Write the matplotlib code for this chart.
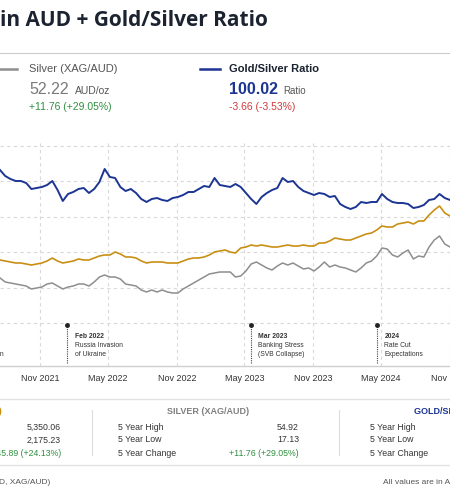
import matplotlib
matplotlib.use("Agg")
import matplotlib.pyplot as plt
from matplotlib.lines import Line2D
from matplotlib.patches import Rectangle
import pandas as pd
import numpy as np

# ---------------- data (relative chart level) ----------------
start_date = "2021-07-16"
n_points = 87  # fortnightly samples

ratio_vals = [210, 204, 201, 199, 199, 197, 191, 192, 193, 195, 199, 190, 179, 186, 188, 191,
              192, 187, 191, 198, 211, 203, 202, 193, 189, 191, 187, 181, 178, 181, 182, 180,
              179, 182, 183, 185, 188, 188, 191, 194, 193, 202, 195, 194, 193, 196, 193, 187,
              181, 176, 183, 187, 190, 192, 202, 198, 199, 193, 189, 187, 185, 187, 186, 183,
              184, 176, 173, 171, 173, 178, 177, 178, 178, 186, 181, 178, 177, 177, 176, 172,
              173, 175, 180, 181, 186, 182, 180]

gold_vals = [120, 119, 118, 117, 117, 116, 115, 116, 117, 119, 122, 119, 117, 118, 119, 121,
             120, 120, 122, 124, 125, 125, 128, 126, 123, 123, 122, 119, 117, 118, 118, 118,
             117, 117, 117, 119, 121, 122, 122, 123, 125, 128, 129, 130, 128, 127, 132, 133,
             135, 134, 135, 134, 133, 133, 134, 135, 134, 134, 135, 134, 134, 137, 137, 139,
             142, 141, 140, 140, 142, 144, 146, 147, 150, 154, 153, 153, 156, 157, 158, 156,
             159, 159, 165, 170, 174, 167, 164]

silver_vals = [102, 98, 97, 96, 95, 94, 91, 92, 93, 96, 97, 94, 91, 93, 94, 96,
               96, 94, 98, 103, 105, 103, 103, 101, 96, 95, 94, 90, 88, 90, 88, 90,
               88, 87, 87, 91, 94, 97, 100, 103, 106, 107, 108, 108, 108, 103, 104, 109,
               116, 118, 115, 112, 110, 114, 117, 115, 117, 114, 111, 112, 109, 113, 118, 113,
               115, 113, 112, 110, 108, 112, 117, 119, 124, 132, 131, 125, 123, 127, 130, 121,
               124, 123, 133, 140, 144, 136, 133]

tick_dates = ["2021-11-01", "2022-05-01", "2022-11-01", "2023-05-01",
              "2023-11-01", "2024-05-01", "2024-11-01"]
tick_labels = ["Nov 2021", "May 2022", "Nov 2022", "May 2023",
               "Nov 2023", "May 2024", "Nov 2024"]

event_dates = ["2022-01-12", "2023-05-18", "2024-04-19"]
event_texts = [["Feb 2022", "Russia Invasion", "of Ukraine"],
               ["Mar 2023", "Banking Stress", "(SVB Collapse)"],
               ["2024", "Rate Cut", "Expectations"]]

silver_stats_labels = ["5 Year High", "5 Year Low", "5 Year Change"]
silver_stats_values = ["54.92", "17.13", "+11.76 (+29.05%)"]
gold_stats_values = ["5,350.06", "2,175.23", "+1,045.89 (+24.13%)"]

# ---------------- styling ----------------
plt.rcParams['font.family'] = ['Liberation Sans', 'DejaVu Sans']
BLUE = '#1c3592'
GOLD = '#c98f14'
GREY = '#8e8e8e'
GREEN = '#2f8f3f'
RED = '#d23a3a'
DARK = '#1b2330'

W, H = 450, 495
fig = plt.figure(figsize=(W / 100, H / 100), dpi=100)
fig.patch.set_facecolor('white')

def fx(x):
    return x / W

def fy(y):
    return 1 - y / H

# ---------------- chart ----------------
ax_top, ax_bot = 143, 366
ax = fig.add_axes([0, fy(ax_bot), 1, (ax_bot - ax_top) / H])
dates = pd.date_range(start_date, periods=n_points, freq="14D")

ax.plot(dates, silver_vals, color=GREY, lw=1.1, zorder=3)
ax.plot(dates, gold_vals, color=GOLD, lw=1.2, zorder=4)
ax.plot(dates, ratio_vals, color=BLUE, lw=1.4, zorder=5)

ax.set_xlim(pd.Timestamp("2021-07-16"), pd.Timestamp("2024-10-19"))
ax.set_ylim(14, 237)
ax.set_yticks(np.linspace(57, 234, 6))
ax.set_yticklabels([])
ax.tick_params(axis='y', length=0)
ax.set_xticks(pd.to_datetime(tick_dates))
ax.set_xticklabels(tick_labels, fontsize=6.5, color='#333333')
ax.tick_params(axis='x', length=0, pad=6)
ax.grid(True, color='#d9d9d9', linestyle=(0, (3, 3)), lw=0.8)
for s in ['left', 'right', 'top']:
    ax.spines[s].set_visible(False)
ax.spines['bottom'].set_color('#cfcfcf')
ax.spines['bottom'].set_linewidth(1.0)

for d, lines in zip(pd.to_datetime(event_dates), event_texts):
    ax.plot([d, d], [17, 55], color='#444444', lw=0.8, ls=(0, (1, 1)), zorder=6)
    ax.plot([d], [55], marker='o', ms=2.5, color='#222222', zorder=7)
    for i, t in enumerate(lines):
        ax.annotate(t, xy=(d, 43 - 8.6 * i), xytext=(5.5, 0), textcoords='offset points',
                    fontsize=4.9, va='center', ha='left', color='#333333',
                    fontweight='bold' if i == 0 else 'normal')

fig.text(fx(4), fy(354), "Recession", fontsize=4.9, ha='right', va='center', color='#333333')

# ---------------- header ----------------
fig.text(fx(0), fy(21), "in AUD + Gold/Silver Ratio", fontsize=15, fontweight='bold',
         family=['Open Sans', 'Liberation Sans', 'DejaVu Sans'],
         color=DARK, va='center', ha='left')
fig.add_artist(Line2D([0, 1], [fy(53), fy(53)], color='#cccccc', lw=0.8))

fig.add_artist(Line2D([fx(0), fx(17)], [fy(69), fy(69)], color=GREY, lw=1.8))
fig.text(fx(29), fy(69), "Silver (XAG/AUD)", fontsize=8, color='#555555', va='center')
fig.add_artist(Line2D([fx(200), fx(220)], [fy(69), fy(69)], color=BLUE, lw=1.8))
fig.text(fx(229), fy(69), "Gold/Silver Ratio", fontsize=8, fontweight='bold', color=DARK, va='center')

fig.text(fx(29), fy(94), "52.22", fontsize=11.5, color='#7a7a7a', va='baseline')
fig.text(fx(75), fy(94), "AUD/oz", fontsize=7.5, color='#555555', va='baseline')
fig.text(fx(229), fy(94), "100.02", fontsize=11.5, fontweight='bold', color=BLUE, va='baseline')
fig.text(fx(283), fy(94), "Ratio", fontsize=7, color='#555555', va='baseline')
fig.text(fx(29), fy(107), "+11.76 (+29.05%)", fontsize=7.5, color=GREEN, va='center')
fig.text(fx(229), fy(107), "-3.66 (-3.53%)", fontsize=7.5, color=RED, va='center')

# ---------------- stats panel ----------------
fig.add_artist(Rectangle((fx(-20), fy(465)), fx(490), (465 - 399) / H, transform=fig.transFigure,
                         facecolor='none', edgecolor='#e2e2e2', lw=1.0))
for xs in (92, 339):
    fig.add_artist(Line2D([fx(xs), fx(xs)], [fy(410), fy(455)], color='#dddddd', lw=0.8))

fig.text(fx(-36), fy(411), "GOLD (XAU/AUD)", fontsize=6.5, fontweight='bold', color=GOLD,
         ha='center', va='center')
fig.text(fx(208), fy(411), "SILVER (XAG/AUD)", fontsize=6.5, fontweight='bold', color='#808080',
         ha='center', va='center')
fig.text(fx(414), fy(411), "GOLD/SILVER RATIO", fontsize=6.5, fontweight='bold', color=BLUE,
         ha='left', va='center')

row_y = [427, 440, 453]
for i, yy in enumerate(row_y):
    col = GREEN if i == 2 else '#333333'
    fig.text(fx(61), fy(yy), gold_stats_values[i], fontsize=6.3, color=col, ha='right', va='center')
    fig.text(fx(118), fy(yy), silver_stats_labels[i], fontsize=6.3, color='#333333', ha='left', va='center')
    fig.text(fx(299), fy(yy), silver_stats_values[i], fontsize=6.3, color=col, ha='right', va='center')
    fig.text(fx(370), fy(yy), silver_stats_labels[i], fontsize=6.3, color='#333333', ha='left', va='center')

fig.text(fx(50), fy(482), "(XAU/AUD, XAG/AUD)", fontsize=6, color='#555555', ha='right', va='center')
fig.text(fx(383), fy(482), "All values are in AUD", fontsize=6, color='#555555', ha='left', va='center')

fig.savefig("out.png", dpi=100, facecolor='white')
